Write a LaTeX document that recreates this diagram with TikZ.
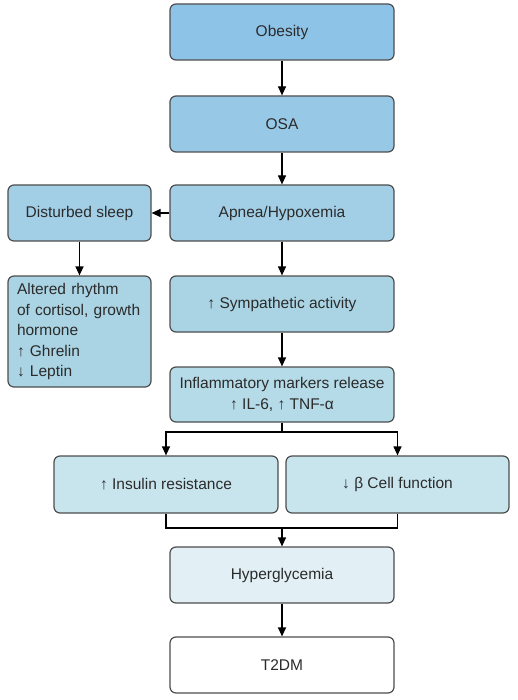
\documentclass[tikz,border=0pt]{standalone}
\usepackage{fontspec}
\setmainfont{Liberation Sans}
\usetikzlibrary{arrows.meta}
\definecolor{tone1}{HTML}{8EC3E8}
\definecolor{tone2}{HTML}{97C9E7}
\definecolor{tone3}{HTML}{A2CFE6}
\definecolor{tone4}{HTML}{AAD4E4}
\definecolor{tone5}{HTML}{B5DBE8}
\definecolor{tone6}{HTML}{C8E5EE}
\definecolor{tone7}{HTML}{E2F0F5}
\definecolor{edge}{HTML}{4D4D4D}
\definecolor{ink}{HTML}{2B2B2B}

\begin{document}
\begin{tikzpicture}[x=1pt, y=-1pt,
    box/.style={draw=edge, line width=1.2pt, rounded corners=6pt, minimum width=224pt,
                minimum height=56pt, inner sep=0pt, text=ink, align=center,
                font=\fontsize{15.5}{20.5}\selectfont},
    link/.style={-{Triangle[length=9pt,width=8pt]}, line width=1.2pt, black}]
  \useasboundingbox (0,0) rectangle (518,700);
  % main column
  \foreach \n/\y/\c/\t in {obesity/32/tone1/Obesity, osa/124/tone2/OSA,
                           apnea/213/tone3/{Apnea/Hypoxemia}, symp/304/tone4/{↑ Sympathetic activity},
                           hyper/575/tone7/Hyperglycemia, t2dm/665/white/T2DM}
    { \node[box, fill=\c] (\n) at (282,\y) {\t}; }
  \node[box, fill=tone5, minimum height=55pt] (inflam) at (282,394.5)
    {Inflammatory markers release\\ ↑ IL-6, ↑ TNF-α};
  % side branch
  \node[box, fill=tone3, minimum width=143pt] (sleep) at (79.5,213) {Disturbed sleep};
  \node[box, fill=tone4, minimum width=143pt, minimum height=111pt, text width=125pt,
        align=left] (altered) at (79.5,331.5)
    {Altered rhythm\\ of cortisol, growth\\ hormone\\ ↑ Ghrelin\\ ↓ Leptin};
  % two effects
  \node[box, fill=tone6, minimum height=57pt] (insulin) at (166,484.5) {↑ Insulin resistance};
  \node[box, fill=tone6, minimum height=57pt, minimum width=223pt] (beta) at (397.5,484.5)
    {↓ β Cell function};
  \coordinate (split) at (282,432);
  \coordinate (merge) at (282,528);
  % connectors
  \draw[link] (obesity.south) -- (osa.north);
  \draw[link] (osa.south) -- (apnea.north);
  \draw[link] (apnea.west) -- (sleep.east);
  \draw[link] (sleep.south) -- (altered.north);
  \draw[link] (apnea.south) -- (symp.north);
  \draw[link] (symp.south) -- (inflam.north);
  \draw[line width=1.2pt] (inflam.south) -- (split);
  \draw[link] (split) -| (insulin.north);
  \draw[link] (split) -| (beta.north);
  \draw[line width=1.2pt] (insulin.south) |- (merge) -| (beta.south);
  \draw[link] (merge) -- (hyper.north);
  \draw[link] (hyper.south) -- (t2dm.north);
\end{tikzpicture}
\end{document}
